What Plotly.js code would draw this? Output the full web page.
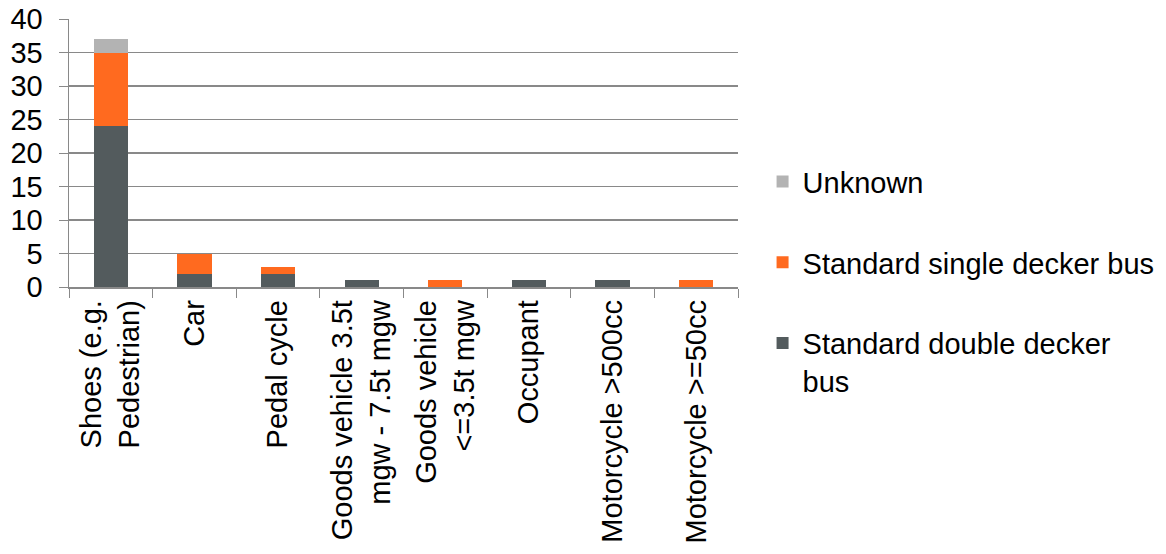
<!DOCTYPE html>
<html>
<head>
<meta charset="utf-8">
<script src="https://cdn.plot.ly/plotly-3.0.1.min.js"></script>
<style>html,body{margin:0;padding:0;background:#fff;}#chart{width:1166px;height:554px;}</style>
</head>
<body>
<div id="chart"></div>
<script>
const categories = [
  "Shoes (e.g.<br>Pedestrian)",
  "Car",
  "Pedal cycle",
  "Goods vehicle 3.5t<br>mgw - 7.5t mgw",
  "Goods vehicle<br><=3.5t mgw",
  "Occupant",
  "Motorcycle >500cc",
  "Motorcycle >=50cc"
];
const doubleDecker = [24, 2, 2, 1, 0, 1, 1, 0];
const singleDecker = [11, 3, 1, 0, 1, 0, 0, 1];
const unknown = [2, 0, 0, 0, 0, 0, 0, 0];
const yTicks = [0, 5, 10, 15, 20, 25, 30, 35, 40];

const font = {family: "Liberation Sans, Arial, sans-serif", size: 29, color: "#000"};

const traces = [
  {type: "bar", name: "Standard double decker<br>bus", x: categories, y: doubleDecker,
   marker: {color: "#535b5d"}, legendgroup: "a", legendrank: 3, hoverinfo: "skip"},
  {type: "bar", name: "Standard single decker bus", x: categories, y: singleDecker,
   marker: {color: "#ff6a1f"}, legendgroup: "b", legendrank: 2, hoverinfo: "skip"},
  {type: "bar", name: "Unknown", x: categories, y: unknown,
   marker: {color: "#b3b3b3"}, legendgroup: "c", legendrank: 1, hoverinfo: "skip"}
];

const layout = {
  width: 1166, height: 554,
  margin: {l: 69, r: 428, t: 19, b: 266.5},
  paper_bgcolor: "#fff", plot_bgcolor: "#fff",
  barmode: "stack", bargap: 0.59,
  font: font,
  showlegend: true,
  legend: {
    xref: "container", yref: "container",
    x: 0.654, xanchor: "left", y: 0.718, yanchor: "top",
    traceorder: "grouped", tracegroupgap: 40,
    valign: "top", font: font, bgcolor: "rgba(0,0,0,0)"
  },
  xaxis: {
    type: "category", tickangle: -90, tickfont: font,
    ticks: "outside", tickson: "boundaries", ticklen: 9, tickcolor: "#898989", tickwidth: 1,
    showline: true, linecolor: "#898989", linewidth: 1.5,
    showgrid: false, automargin: false, fixedrange: true
  },
  yaxis: {
    range: [0, 40], tickvals: yTicks, ticktext: yTicks.map(String), tickfont: font,
    ticks: "outside", ticklen: 9, tickcolor: "#898989", tickwidth: 1,
    showline: true, linecolor: "#898989", linewidth: 1.5,
    showgrid: true, gridcolor: "#898989", gridwidth: 1.5,
    zeroline: false, automargin: false, fixedrange: true, ticklabelstandoff: 10
  }
};

Plotly.newPlot("chart", traces, layout, {staticPlot: true, displayModeBar: false});
</script>
</body>
</html>
